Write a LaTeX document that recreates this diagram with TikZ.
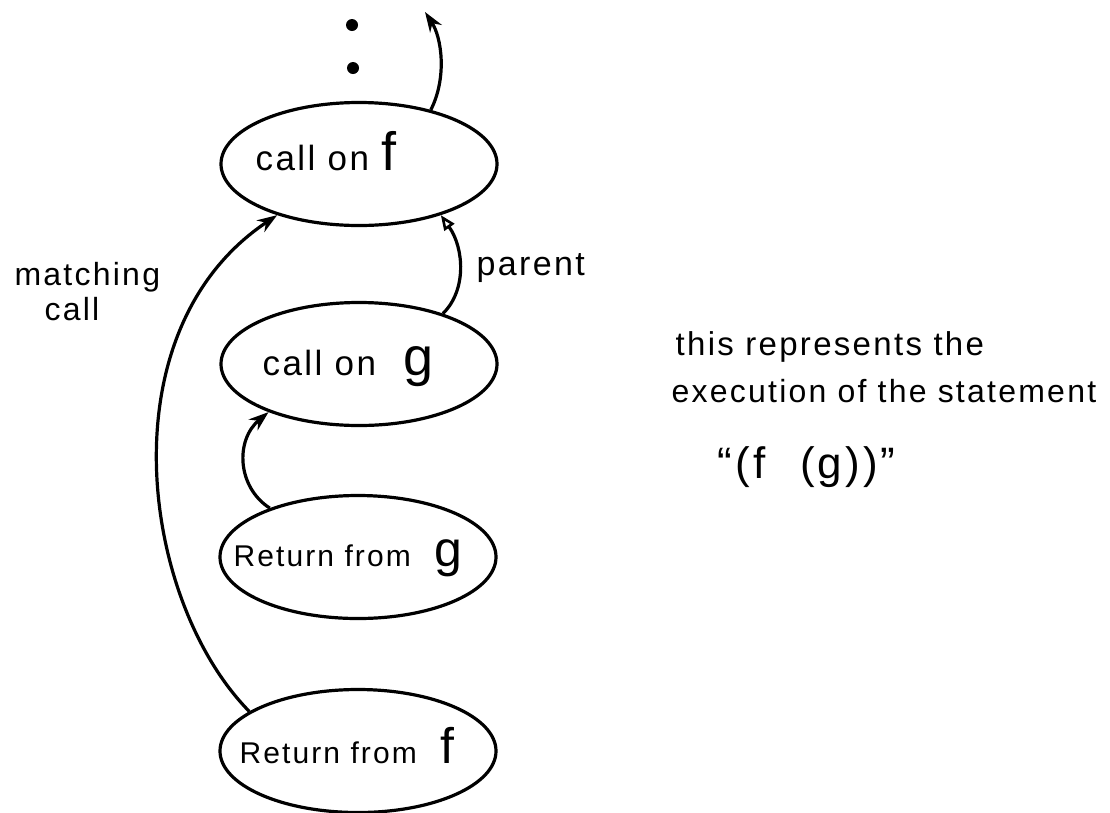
\documentclass[tikz,border=0pt]{standalone}
\usepackage{fontspec}
\setmainfont{Liberation Sans}
\newfontfamily\hand[LetterSpace=7]{Liberation Sans}
\usetikzlibrary{shapes.geometric,arrows.meta}
\begin{document}
\begin{tikzpicture}[x=1pt,y=-1pt,
  line width=3.2pt,
  frame/.style={ellipse, draw, line width=3.2pt, minimum width=276pt, minimum height=123pt, inner sep=0pt},
  lbl/.style={anchor=base west, inner sep=0pt, font=\hand\fontsize{35}{38}\selectfont},
  solidtip/.style={-{Stealth[length=20pt,width=14pt]}},
  opentip/.style={-{Triangle[open,length=15pt,width=12pt,line width=2.6pt]}},
  dot/.style={circle, fill, inner sep=0pt, minimum size=12pt}
]
\useasboundingbox (0,0) rectangle (1110,812);

% ellipses
\node[frame] (cf) at (359,164) {};
\node[frame] (cg) at (359,364) {};
\node[frame] (rg) at (358,557) {};
\node[frame] (rf) at (358,751) {};

% labels inside
\node[lbl] (tcf) at (254,170) {call on {\fontsize{54}{56}\selectfont f}};
\node[lbl] (tcg) at (261,375) {call on\;\, {\fontsize{54}{56}\selectfont g}};
\node[lbl, font=\hand\fontsize{30}{32}\selectfont] (trg) at (232,566) {Return from\;\, {\fontsize{50}{52}\selectfont g}};
\node[lbl, font=\hand\fontsize{30}{32}\selectfont] (trf) at (238,763) {Return from\;\, {\fontsize{50}{52}\selectfont f}};

% vertical ellipsis dots
\node[dot] (d1) at (352,25) {};
\node[dot] (d2) at (353,68) {};

% free end of the top arrow
\coordinate (up) at (425,12);

% connectors
\draw[solidtip] (cf.37) .. controls (447,78) and (442,38) .. (up);
\draw[solidtip] (rf.160) .. controls (140,600) and (105,330) .. (cf.212);
\draw[opentip] (cg.31) .. controls (467,290) and (464,248) .. (cf.328);
\draw[solidtip] (rg.151) .. controls (237,487) and (235,440) .. (cg.208);

% side labels
\node[lbl, font=\hand\fontsize{32}{34}\selectfont] (mc1) at (13,285) {matching};
\node[lbl, font=\hand\fontsize{32}{34}\selectfont] (mc2) at (43,320) {call};
\node[lbl, font=\hand\fontsize{34}{36}\selectfont] (par) at (475,275) {parent};

\node[lbl, font=\hand\fontsize{33}{36}\selectfont] (n1) at (674,355) {this represents the};
\node[lbl, font=\hand\fontsize{32}{36}\selectfont] (n2) at (670,402) {execution of the statement};
\node[lbl, font=\hand\fontsize{44}{46}\selectfont] (n3) at (716,478) {“(f\;\, (g))”};
\end{tikzpicture}
\end{document}
